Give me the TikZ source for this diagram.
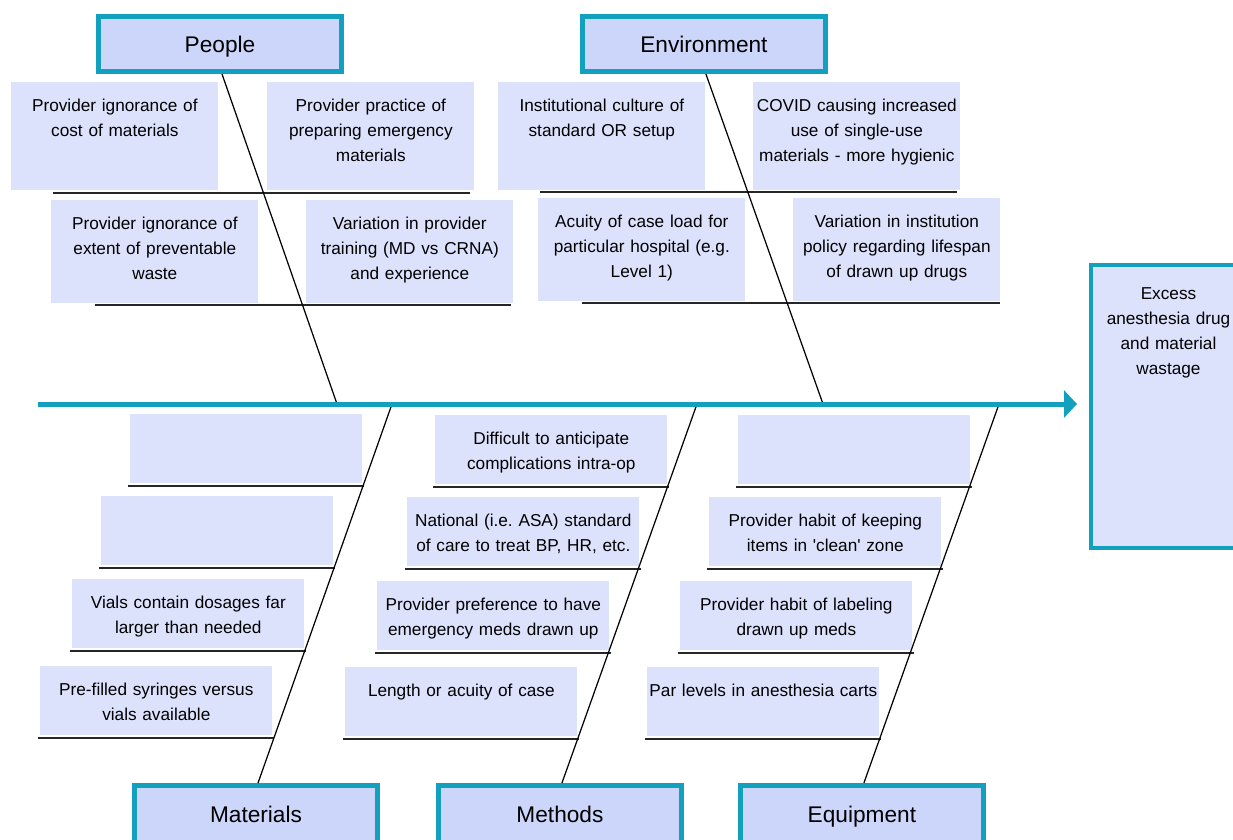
\documentclass[tikz,border=0pt]{standalone}
\usepackage{fontspec}
\setmainfont{Liberation Sans}
\usetikzlibrary{positioning, calc, arrows.meta}
\definecolor{fishteal}{RGB}{18,160,190}
\definecolor{headfill}{RGB}{204,214,250}
\definecolor{causefill}{RGB}{220,226,252}

\begin{document}
\begin{tikzpicture}[
    x=0.02cm, y=-0.02cm,
    every node/.style={font=\fontsize{9.8}{14.4}\selectfont},
    head/.style={rectangle, draw=fishteal, line width=0.1cm, fill=headfill, inner sep=0pt,
                 minimum width=4.86cm, text height=0.73cm, text depth=0.37cm,
                 font=\fontsize{12.9}{15}\selectfont},
    foot/.style={head, text depth=0.55cm},
    cause/.style={rectangle, fill=causefill, anchor=north west, inner sep=0pt,
                  text width=4.14cm, align=center, text height=0.58cm, text depth=1.58cm},
    lowcause/.style={cause, text width=4.64cm, text depth=0.8cm},
    effect/.style={rectangle, draw=fishteal, line width=0.08cm, fill=causefill, anchor=north west,
                   inner sep=0pt, text width=2.8cm, minimum width=3.1cm, align=center,
                   text height=0.68cm, text depth=4.98cm},
    bone/.style={line width=0.7pt, black},
    shelf/.style={line width=1.2pt, black!85},
    spine/.style={line width=0.1cm, fishteal, -{Triangle[length=0.26cm, width=0.54cm]}}
]
\path[use as bounding box, clip] (0,0) rectangle (1233,839);

% category heads
\node[head, anchor=north] (people) at (220,14) {People};
\node[head, right=4.72cm of people] (environment) {Environment};
\node[foot, anchor=north] (materials) at (256,783) {Materials};
\node[foot, right=1.12cm of materials] (methods) {Methods};
\node[foot, right=1.08cm of methods] (equipment) {Equipment};

% effect
\node[effect] (wastage) at (1089,263) {Excess\\anesthesia drug\\and material\\wastage};

% people causes
\node[cause] (pe1) at (11,82) {Provider ignorance of\\cost of materials};
\node[cause] (pe2) at (267,82) {Provider practice of\\preparing emergency\\materials};
\node[cause, text depth=1.48cm] (pe3) at (51,200) {Provider ignorance of\\extent of preventable\\waste};
\node[cause, text depth=1.48cm] (pe4) at (306,200) {Variation in provider\\training (MD vs CRNA)\\and experience};

% environment causes
\node[cause] (en1) at (498,82) {Institutional culture of\\standard OR setup};
\node[cause] (en2) at (753,82) {COVID causing increased\\use of single-use\\materials - more hygienic};
\node[cause, text depth=1.48cm] (en3) at (538,198) {Acuity of case load for\\particular hospital (e.g.\\Level 1)};
\node[cause, text depth=1.48cm] (en4) at (793,198) {Variation in institution\\policy regarding lifespan\\of drawn up drugs};

% materials causes
\node[lowcause] (mat1) at (130,414) {};
\node[lowcause] (mat2) at (101,496) {};
\node[lowcause] (mat3) at (72,579) {Vials contain dosages far\\larger than needed};
\node[lowcause] (mat4) at (40,666) {Pre-filled syringes versus\\vials available};

% methods causes
\node[lowcause] (met1) at (435,415) {Difficult to anticipate\\complications intra-op};
\node[lowcause] (met2) at (407,497) {National (i.e.\ ASA) standard\\of care to treat BP, HR, etc.};
\node[lowcause] (met3) at (377,581) {Provider preference to have\\emergency meds drawn up};
\node[lowcause] (met4) at (345,667) {Length or acuity of case};

% equipment causes
\node[lowcause] (eq1) at (738,415) {};
\node[lowcause] (eq2) at (709,497) {Provider habit of keeping\\items in \textquotesingle clean\textquotesingle\ zone};
\node[lowcause] (eq3) at (680,581) {Provider habit of labeling\\drawn up meds};
\node[lowcause] (eq4) at (647,667) {Par levels in anesthesia carts};

% shelves under the causes
\draw[shelf] ($(pe1.south west)+(42,2)$) -- ($(pe2.south east)+(-5,2)$);
\draw[shelf] ($(pe3.south west)+(44,1)$) -- ($(pe4.south east)+(-3,1)$);
\draw[shelf] ($(en1.south west)+(42,1)$) -- ($(en2.south east)+(-4,1)$);
\draw[shelf] ($(en3.south west)+(44,1)$) -- ($(en4.south east)+(-1,1)$);
\foreach \b in {mat1,mat2,mat3,mat4,met1,met2,met3,met4,eq1,eq2,eq3,eq4}
    \draw[shelf] ($(\b.south west)+(-2,2)$) -- ($(\b.south east)+(1,2)$);

% spine and bones
\coordinate (tail) at (38,404);
\coordinate (jpeople) at (337,404);
\coordinate (jenv) at (823,404);
\coordinate (jmat) at (392,404);
\coordinate (jmet) at (697,404);
\coordinate (jeq) at (999,404);

\draw[bone] ($(people.south)+(2,0)$) -- (jpeople);
\draw[bone] ($(environment.south)+(2,0)$) -- (jenv);
\draw[bone] (jmat) -- ($(materials.north)+(2,0)$);
\draw[bone] (jmet) -- ($(methods.north)+(2,0)$);
\draw[bone] (jeq) -- ($(equipment.north)+(2,0)$);
\draw[spine, shorten >=0.24cm] (tail) -- (tail -| wastage.west);
\end{tikzpicture}
\end{document}
